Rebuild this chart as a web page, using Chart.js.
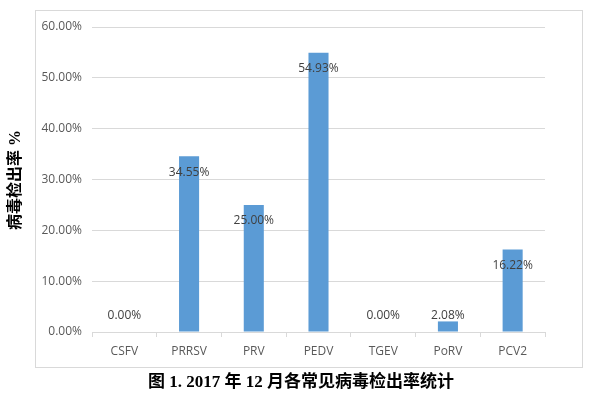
<!DOCTYPE html>
<html lang="zh-CN">
<head>
    <meta charset="UTF-8">
    <title>病毒检出率</title>
    <script src="https://cdn.jsdelivr.net/npm/chart.js"></script>
    <style>
        body { margin: 0; background: #fff; }
    </style>
</head>
<body>
    <div style="width: 600px; height: 398px;">
        <canvas id="grafico1" width="600" height="398"></canvas>
    </div>
    <script>
        const categorias = ["CSFV", "PRRSV", "PRV", "PEDV", "TGEV", "PoRV", "PCV2"]
        const taxas = [0.00, 34.55, 25.00, 54.93, 0.00, 2.08, 16.22]
        const ticksY = [0, 10, 20, 30, 40, 50, 60]
        const tituloY = "病毒检出率 %"
        const legenda = "图 1. 2017 年 12 月各常见病毒检出率统计"

        // moldura, titulo do eixo, legenda e rotulos dos valores
        const extras = {
          id: 'extras',
          beforeDraw(chart) {
            const c = chart.ctx
            c.save()
            c.fillStyle = '#fff'
            c.fillRect(0, 0, chart.width, chart.height)
            c.strokeStyle = '#d9d9d9'
            c.lineWidth = 1
            c.strokeRect(35.5, 10.5, 547, 357)
            c.restore()
          },
          afterDraw(chart) {
            const c = chart.ctx
            c.save()
            c.fillStyle = '#000'
            c.font = "bold 16px 'Liberation Serif', 'Noto Sans CJK SC'"
            c.textAlign = 'center'
            c.textBaseline = 'middle'
            c.translate(16, 180)
            c.rotate(-Math.PI / 2)
            c.fillText(tituloY, 0, 0)
            c.restore()

            c.save()
            c.fillStyle = '#000'
            c.font = "bold 17px 'Liberation Serif', 'Noto Sans CJK SC'"
            c.textAlign = 'center'
            c.textBaseline = 'middle'
            c.fillText(legenda, 301, 383)
            c.restore()

            const meta = chart.getDatasetMeta(0)
            const base = chart.scales.y.getPixelForValue(0)
            c.save()
            c.fillStyle = '#404040'
            c.font = "12px 'Open Sans'"
            c.textAlign = 'center'
            c.textBaseline = 'middle'
            meta.data.forEach((bar, i) => {
              const y = Math.min(bar.y + 16, base - 16)
              c.fillText(taxas[i].toFixed(2) + '%', bar.x, y)
            })
            c.restore()
          }
        }

        const ctx = document.getElementById('grafico1')
        let grafico1 = new Chart(ctx, {
          type: 'bar',
          data: {
            labels: categorias,
            datasets: [{
              data: taxas,
              backgroundColor: '#5b9bd5',
              barPercentage: 0.31,
              categoryPercentage: 1
            }]
          },
          options: {
            responsive: false,
            animation: false,
            layout: { padding: { left: 35, right: 55, top: 27, bottom: 36 } },
            plugins: { legend: { display: false }, tooltip: { enabled: false } },
            scales: {
              x: {
                afterFit: s => { s.height = 30 },
                grid: { offset: true, drawOnChartArea: false, tickLength: 5, color: '#d9d9d9' },
                border: { color: '#d9d9d9' },
                ticks: { color: '#595959', padding: 7, font: { family: 'Open Sans', size: 12 } }
              },
              y: {
                min: 0,
                max: 60,
                afterFit: s => { s.width = 57 },
                afterBuildTicks: s => { s.ticks = ticksY.map(v => ({ value: v })) },
                grid: { color: '#d9d9d9', drawTicks: false },
                border: { display: false },
                ticks: {
                  color: '#595959',
                  padding: 10,
                  font: { family: 'Open Sans', size: 12 },
                  callback: v => v.toFixed(2) + '%'
                }
              }
            }
          },
          plugins: [extras]
        })
    </script>
</body>
</html>
